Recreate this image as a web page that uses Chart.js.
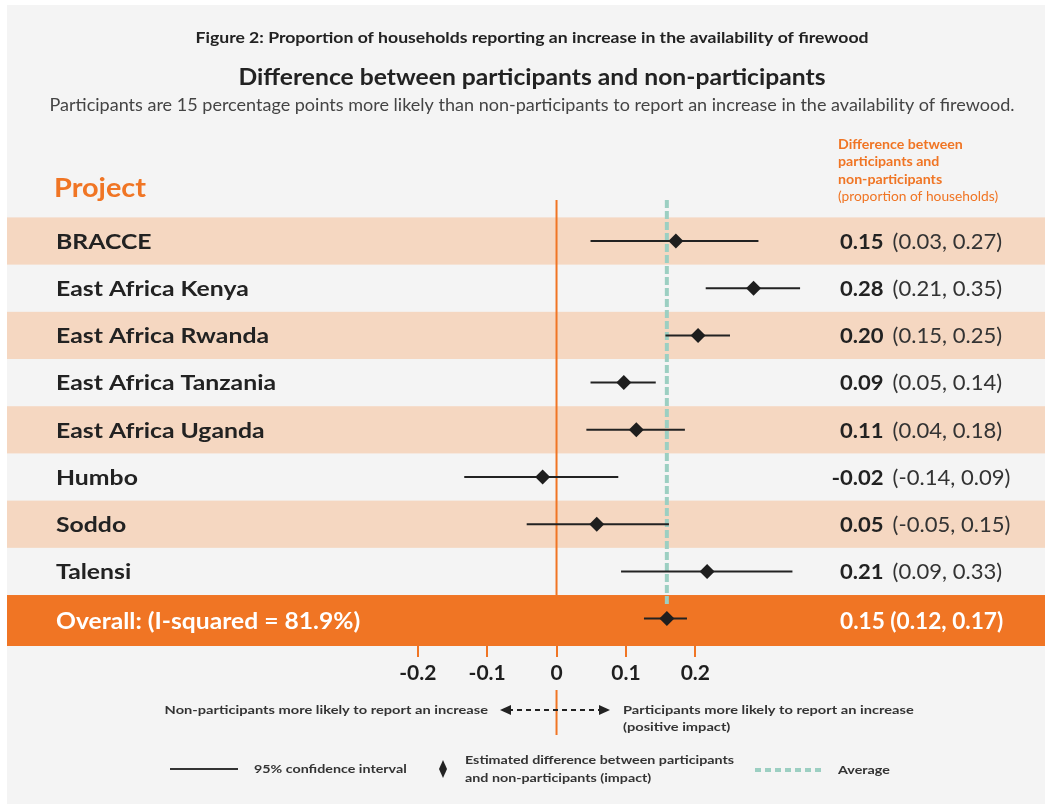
<!DOCTYPE html>
<html>
<head>
<meta charset="utf-8">
<title>Figure 2 - firewood availability</title>
<script src="https://cdn.jsdelivr.net/npm/chart.js@4.4.1/dist/chart.umd.min.js"></script>
<style>
    html, body { margin: 0; padding: 0; background: #ffffff; overflow: hidden; }
    canvas { display: block; }
</style>
</head>
<body>
<canvas id="forestChart" width="1045" height="804"></canvas>
<script>
// ========================================
// Data
// ========================================
const projects = ['BRACCE', 'East Africa Kenya', 'East Africa Rwanda', 'East Africa Tanzania',
    'East Africa Uganda', 'Humbo', 'Soddo', 'Talensi'];
const overallLabel = 'Overall: (I-squared = 81.9%)';

// plotted positions of the diamonds and interval ends
const estimates = [0.172, 0.284, 0.204, 0.097, 0.115, -0.020, 0.058, 0.217, 0.159];
const ciLow     = [0.049, 0.215, 0.157, 0.049, 0.043, -0.133, -0.043, 0.093, 0.126];
const ciHigh    = [0.291, 0.351, 0.250, 0.143, 0.185, 0.089, 0.162, 0.340, 0.188];
const averageValue = 0.159;

// printed values in the right column
const estimateText = ['0.15', '0.28', '0.20', '0.09', '0.11', '-0.02', '0.05', '0.21', '0.15'];
const ciText = ['(0.03, 0.27)', '(0.21, 0.35)', '(0.15, 0.25)', '(0.05, 0.14)', '(0.04, 0.18)',
    '(-0.14, 0.09)', '(-0.05, 0.15)', '(0.09, 0.33)', '(0.12, 0.17)'];

const xTicks = [-0.2, -0.1, 0, 0.1, 0.2];

// ========================================
// Colours / fonts
// ========================================
const ORANGE = '#f07524';
const PEACH = '#f5d7c1';
const TEAL = '#9ccfc2';
const DARK = '#222222';
const FONT = 'Lato, "Open Sans", sans-serif';

const Y_TOP = -0.869;
const Y_BOTTOM = 8.58;
const overallRow = projects.length;

// ========================================
// Datasets
// ========================================
const ciPoints = [];
estimates.forEach((v, i) => {
    ciPoints.push({ x: ciLow[i], y: i });
    ciPoints.push({ x: ciHigh[i], y: i });
    ciPoints.push({ x: ciHigh[i], y: null });
});

const diamondPoints = estimates.map((v, i) => ({ x: v, y: i }));

// ========================================
// Text helpers (the original face is wider than Lato, so stretch a bit)
// ========================================
function drawText(ctx, text, x, y, font, color, align = 'left', sx = 1) {
    ctx.save();
    ctx.font = font;
    ctx.fillStyle = color;
    ctx.textAlign = align;
    ctx.textBaseline = 'middle';
    ctx.translate(x, y);
    ctx.scale(sx, 1);
    ctx.fillText(text, 0, 0);
    ctx.restore();
    ctx.font = font;
    return ctx.measureText(text).width * sx;
}

function drawFitted(ctx, text, cx, y, width, font, color) {
    ctx.font = font;
    const w = ctx.measureText(text).width;
    drawText(ctx, text, cx, y, font, color, 'center', width / w);
}

const forestPlugin = {
    id: 'forestPlugin',
    beforeDraw(chart) {
        const ctx = chart.ctx;
        ctx.save();
        ctx.fillStyle = '#ffffff';
        ctx.fillRect(0, 0, chart.width, chart.height);
        ctx.fillStyle = '#f4f4f4';
        ctx.fillRect(7, 5, chart.width - 7, chart.height - 5);
        ctx.restore();
    },
    beforeDatasetsDraw(chart) {
        const ctx = chart.ctx;
        const yS = chart.scales.y;
        const area = chart.chartArea;
        ctx.save();
        for (let i = 0; i < projects.length; i += 2) {
            const top = yS.getPixelForValue(i - 0.5);
            const bottom = yS.getPixelForValue(i + 0.5);
            ctx.fillStyle = PEACH;
            ctx.fillRect(area.left, top, area.right - area.left, bottom - top);
        }
        const oTop = yS.getPixelForValue(overallRow - 0.5);
        ctx.fillStyle = ORANGE;
        ctx.fillRect(area.left, oTop, area.right - area.left, area.bottom - oTop);
        ctx.restore();
    },
    afterDraw(chart) {
        const ctx = chart.ctx;
        const yS = chart.scales.y;
        const xS = chart.scales.x;
        ctx.save();

        // Titles
        drawFitted(ctx, 'Figure 2: Proportion of households reporting an increase in the availability of firewood',
            532, 38, 673, `bold 15px ${FONT}`, DARK);
        drawFitted(ctx, 'Difference between participants and non-participants',
            532, 78, 587, `bold 22px ${FONT}`, DARK);
        drawFitted(ctx, 'Participants are 15 percentage points more likely than non-participants to report an increase in the availability of firewood.',
            532, 106, 965, `17px ${FONT}`, '#444444');

        // Column headers
        drawText(ctx, 'Project', 54, 188, `bold 27px ${FONT}`, ORANGE, 'left', 1.07);
        const hs = 1.09;
        drawText(ctx, 'Difference between', 838, 145, `bold 13px ${FONT}`, ORANGE, 'left', hs);
        drawText(ctx, 'participants and', 838, 162, `bold 13px ${FONT}`, ORANGE, 'left', hs);
        drawText(ctx, 'non-participants', 838, 180, `bold 13px ${FONT}`, ORANGE, 'left', hs);
        drawText(ctx, '(proportion of households)', 838, 197, `13px ${FONT}`, ORANGE, 'left', 1.06);

        // Row labels and values
        const rowFont = `bold 21px ${FONT}`;
        projects.forEach((name, i) => {
            const y = yS.getPixelForValue(i) + 1;
            drawText(ctx, name, 56, y, rowFont, DARK, 'left', 1.18);
            let est = estimateText[i];
            if (est.startsWith('-')) {
                drawText(ctx, '-', 840, y, rowFont, DARK, 'right', 1.1);
                est = est.slice(1);
            }
            const w = drawText(ctx, est, 840, y, rowFont, DARK, 'left', 1.05);
            drawText(ctx, ciText[i], 840 + w + 9, y, `21px ${FONT}`, '#333333', 'left', 1.05);
        });
        const oy = yS.getPixelForValue(overallRow) + 3;
        drawText(ctx, overallLabel, 56, oy, `bold 22px ${FONT}`, '#ffffff', 'left', 1.12);
        drawText(ctx, estimateText[overallRow] + ' ' + ciText[overallRow], 840, oy, `bold 22px ${FONT}`, '#ffffff', 'left', 1.03);

        // Direction annotation
        const zeroX = xS.getPixelForValue(0);
        ctx.strokeStyle = ORANGE;
        ctx.lineWidth = 2;
        ctx.beginPath();
        ctx.moveTo(zeroX, 690);
        ctx.lineTo(zeroX, 735);
        ctx.stroke();

        const small = `bold 12px ${FONT}`;
        drawText(ctx, 'Non-participants more likely to report an increase', 488, 710, small, '#333333', 'right', 1.22);
        drawText(ctx, 'Participants more likely to report an increase', 623, 710, small, '#333333', 'left', 1.22);
        drawText(ctx, '(positive impact)', 623, 727, small, '#333333', 'left', 1.22);

        ctx.strokeStyle = '#222222';
        ctx.lineWidth = 2;
        ctx.setLineDash([5, 4]);
        ctx.beginPath();
        ctx.moveTo(508, 710);
        ctx.lineTo(602, 710);
        ctx.stroke();
        ctx.setLineDash([]);
        ctx.fillStyle = '#222222';
        ctx.beginPath();
        ctx.moveTo(500, 710); ctx.lineTo(511, 705); ctx.lineTo(511, 715); ctx.closePath();
        ctx.fill();
        ctx.beginPath();
        ctx.moveTo(610, 710); ctx.lineTo(599, 705); ctx.lineTo(599, 715); ctx.closePath();
        ctx.fill();

        // Legend
        ctx.strokeStyle = '#333333';
        ctx.lineWidth = 2;
        ctx.beginPath();
        ctx.moveTo(170, 769);
        ctx.lineTo(238, 769);
        ctx.stroke();
        drawText(ctx, '95% confidence interval', 254, 769, small, '#333333', 'left', 1.19);

        ctx.fillStyle = '#222222';
        ctx.beginPath();
        ctx.moveTo(443, 760); ctx.lineTo(447, 769); ctx.lineTo(443, 778); ctx.lineTo(439, 769); ctx.closePath();
        ctx.fill();
        drawText(ctx, 'Estimated difference between participants', 465, 760, small, '#333333', 'left', 1.19);
        drawText(ctx, 'and non-participants (impact)', 465, 778, small, '#333333', 'left', 1.19);

        ctx.strokeStyle = TEAL;
        ctx.lineWidth = 4;
        ctx.setLineDash([6, 4]);
        ctx.beginPath();
        ctx.moveTo(755, 770);
        ctx.lineTo(825, 770);
        ctx.stroke();
        ctx.setLineDash([]);
        drawText(ctx, 'Average', 838, 770, small, '#333333', 'left', 1.19);

        ctx.restore();
    }
};

// ========================================
// Chart
// ========================================
new Chart(document.getElementById('forestChart'), {
    type: 'scatter',
    data: {
        datasets: [
            {
                label: 'Estimated difference',
                data: diamondPoints,
                pointStyle: 'rectRot',
                pointRadius: 7.5,
                backgroundColor: '#1e1e1e',
                borderWidth: 0,
                order: 0
            },
            {
                label: '95% confidence interval',
                data: ciPoints,
                showLine: true,
                spanGaps: false,
                borderColor: '#222222',
                borderWidth: 2,
                pointRadius: 0,
                order: 1
            },
            {
                label: 'Average',
                data: [{ x: averageValue, y: Y_TOP }, { x: averageValue, y: 7.73 }],
                showLine: true,
                borderColor: TEAL,
                borderWidth: 4,
                borderDash: [8, 3],
                pointRadius: 0,
                order: 2
            },
            {
                label: 'No difference',
                data: [{ x: 0, y: Y_TOP }, { x: 0, y: overallRow - 0.5 }],
                showLine: true,
                borderColor: ORANGE,
                borderWidth: 2,
                pointRadius: 0,
                order: 3
            }
        ]
    },
    options: {
        responsive: false,
        animation: false,
        layout: { autoPadding: false, padding: { left: 7, right: 0, top: 200, bottom: 118 } },
        plugins: {
            legend: { display: false },
            tooltip: { enabled: false }
        },
        scales: {
            x: {
                type: 'linear',
                min: -0.792,
                max: 0.704,
                afterBuildTicks: (scale) => { scale.ticks = xTicks.map(v => ({ value: v })); },
                afterFit: (scale) => { scale.height = 40; },
                border: { display: false },
                grid: {
                    drawOnChartArea: false,
                    drawTicks: true,
                    tickLength: 11,
                    color: ORANGE,
                    lineWidth: 2
                },
                ticks: {
                    autoSkip: false,
                    maxRotation: 0,
                    padding: 4,
                    color: '#1e1e1e',
                    font: { family: FONT, size: 21, weight: 'bold' },
                    callback: (v) => (v === 0 ? '0' : v.toFixed(1))
                }
            },
            y: {
                type: 'linear',
                display: false,
                reverse: true,
                min: Y_TOP,
                max: Y_BOTTOM
            }
        }
    },
    plugins: [forestPlugin]
});
</script>
</body>
</html>
